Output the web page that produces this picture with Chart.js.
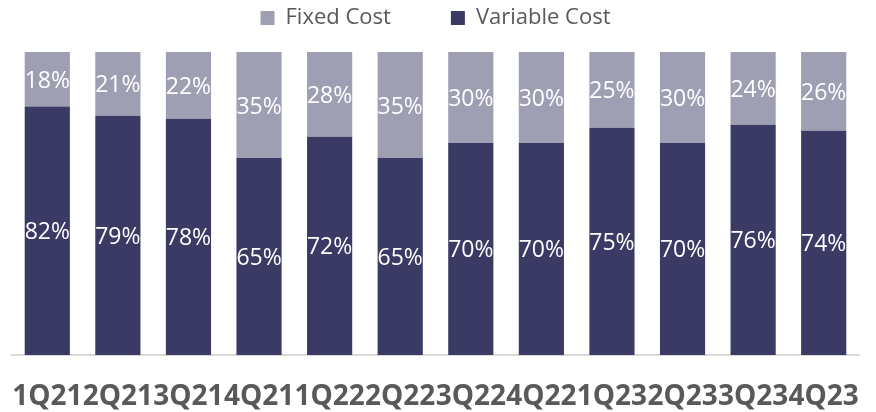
<!DOCTYPE html>
<html>
<head>
<meta charset="utf-8">
<script src="https://cdn.jsdelivr.net/npm/chart.js@4/dist/chart.umd.min.js"></script>
<style>
  html, body { margin: 0; padding: 0; background: #fff; }
  #wrap { width: 876px; height: 412px; }
</style>
</head>
<body>
<div id="wrap"><canvas id="costChart"></canvas></div>
<script>
const quarters = ['1Q21', '2Q21', '3Q21', '4Q21', '1Q22', '2Q22', '3Q22', '4Q22', '1Q23', '2Q23', '3Q23', '4Q23'];
const fixedCost = [18, 21, 22, 35, 28, 35, 30, 30, 25, 30, 24, 26];
const variableCost = [82, 79, 78, 65, 72, 65, 70, 70, 75, 70, 76, 74];

// legend uses a wide item padding, so pull it up and trim its height
const legendGap = {
    id: 'legendGap',
    beforeInit(chart) {
        const fit = chart.legend.fit;
        chart.legend.fit = function () {
            fit.bind(chart.legend)();
            this.height += 13;
        };
    }
};

// percent labels in the middle of each segment
const segLabels = {
    id: 'segLabels',
    afterDatasetsDraw(chart) {
        const ctx = chart.ctx;
        ctx.save();
        ctx.fillStyle = '#ffffff';
        ctx.font = '23px "Open Sans"';
        ctx.textAlign = 'center';
        ctx.textBaseline = 'middle';
        chart.data.datasets.forEach((ds, i) => {
            const meta = chart.getDatasetMeta(i);
            meta.data.forEach((bar, j) => {
                const y = (bar.y + bar.base) / 2;
                ctx.fillText(ds.data[j] + '%', bar.x, y + 2);
            });
        });
        ctx.restore();
    }
};

new Chart(document.getElementById('costChart'), {
    type: 'bar',
    data: {
        labels: quarters,
        datasets: [
            {
                label: 'Variable Cost',
                data: variableCost,
                backgroundColor: '#3a3a65',
                borderWidth: 0
            },
            {
                label: 'Fixed Cost',
                data: fixedCost,
                backgroundColor: '#9f9fb4',
                borderWidth: 0
            }
        ]
    },
    options: {
        responsive: true,
        maintainAspectRatio: false,
        animation: false,
        devicePixelRatio: 1,
        layout: { padding: { left: 12, right: 17, top: -53, bottom: 2 } },
        datasets: {
            bar: { categoryPercentage: 1, barPercentage: 0.64 }
        },
        plugins: {
            legend: {
                position: 'top',
                reverse: true,
                labels: {
                    boxWidth: 14,
                    boxHeight: 14,
                    padding: 60,
                    color: '#595959',
                    font: { family: 'Open Sans', size: 22 }
                }
            },
            tooltip: { enabled: false }
        },
        scales: {
            x: {
                stacked: true,
                grid: { display: false, drawTicks: false },
                border: { display: true, color: '#d9d9d9', width: 2 },
                ticks: {
                    autoSkip: false,
                    maxRotation: 0,
                    minRotation: 0,
                    padding: 25,
                    color: '#595959',
                    font: { family: 'Open Sans', size: 28, weight: 'bold' }
                },
                afterFit(scale) {
                    scale.height = 55;
                    scale.paddingLeft = 0;
                    scale.paddingRight = 0;
                }
            },
            y: {
                stacked: true,
                display: false,
                min: 0,
                max: 100
            }
        }
    },
    plugins: [legendGap, segLabels]
});
</script>
</body>
</html>
